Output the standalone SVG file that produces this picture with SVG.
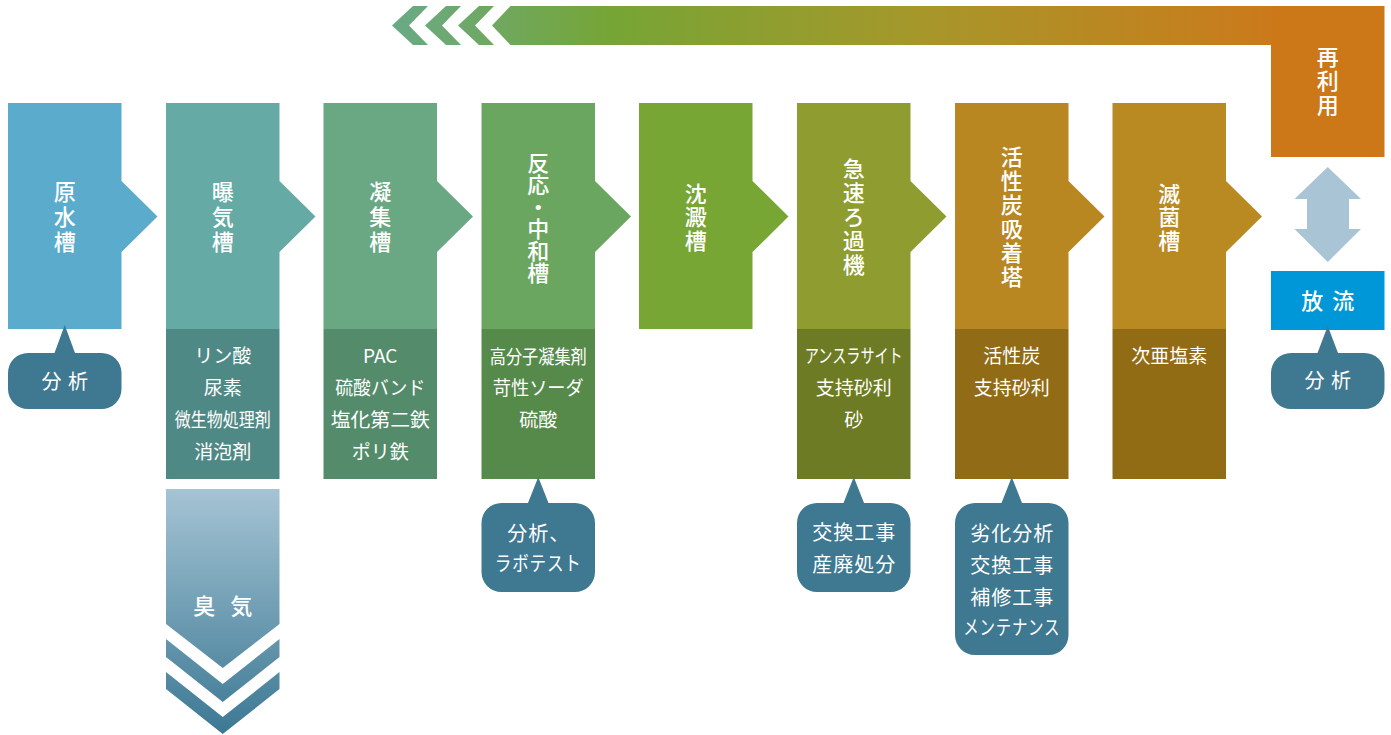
<svg xmlns="http://www.w3.org/2000/svg" width="1391" height="735" viewBox="0 0 1391 735">
<defs>
<linearGradient id="gTop" gradientUnits="userSpaceOnUse" x1="392" y1="0" x2="1271" y2="0">
<stop offset="0" stop-color="#69aa86"/>
<stop offset="0.25" stop-color="#76a535"/>
<stop offset="0.6" stop-color="#a6972a"/>
<stop offset="1" stop-color="#cb7a1b"/>
</linearGradient>
<linearGradient id="gOdor" gradientUnits="userSpaceOnUse" x1="0" y1="489" x2="0" y2="734">
<stop offset="0" stop-color="#a5c4d4"/>
<stop offset="1" stop-color="#3c7893"/>
</linearGradient>
</defs>
<style>
text{font-family:"Noto Sans CJK JP","Noto Sans CJK SC",sans-serif;fill:#fff;text-anchor:middle}
.v{font-size:22px;font-weight:500;writing-mode:vertical-rl;text-orientation:upright}
.h{font-size:22px;font-weight:500}
.s{font-size:19px}
.c{font-size:20px;letter-spacing:1px}
.call{fill:#3e7891}
</style>

<g id="connectors">
<path fill="url(#gTop)" d="M392,25.5 L413,6 H428 L409,25.5 L428,45 H413 Z"/>
<path fill="url(#gTop)" d="M425,25.5 L446,6 H461 L442,25.5 L461,45 H446 Z"/>
<path fill="url(#gTop)" d="M458,25.5 L479,6 H494 L475,25.5 L494,45 H479 Z"/>
<path fill="url(#gTop)" d="M492,25.5 L510.5,6 H1271 V45 H510.5 Z"/>
<polygon fill="#a9c5d5" points="1327.75,167 1361,199 1349,199 1349,229 1361,229 1327.75,262 1294.5,229 1307,229 1307,199 1294.5,199"/>
</g>

<g id="n-gensui">
<path fill="#5aabcc" d="M8,103 H121.5 V181 L157.5,216.5 L121.5,252 V329 H8 Z"/>
<text class="v" x="64.75" y="218.5" style="letter-spacing:3px">原水槽</text>
</g>
<g id="c-gensui">
<path class="call" d="M64.75,325 L75,353 H101.5 A20,20 0 0 1 121.5,373 V389 A20,20 0 0 1 101.5,409 H28 A20,20 0 0 1 8,389 V373 A20,20 0 0 1 28,353 H54.5 Z"/>
<text class="c" x="65.25" y="389" xml:space="preserve">分 析</text>
</g>

<g id="n-bakki">
<path fill="#66aaa6" d="M166,103 H279.5 V181 L315.5,216.5 L279.5,252 V329 H166 Z"/>
<text class="v" x="222.75" y="218.5" style="letter-spacing:3px">曝気槽</text>
<rect x="166" y="329" width="113.5" height="150" fill="#4f8985"/>
<text class="s"><tspan x="222.75" y="363">リン酸</tspan><tspan x="222.75" y="395">尿素</tspan><tspan x="222.75" y="427" textLength="96" lengthAdjust="spacingAndGlyphs">微生物処理剤</tspan><tspan x="222.75" y="459">消泡剤</tspan></text>
</g>
<g id="odor">
<path fill="url(#gOdor)" d="M166,489 H279.5 V624 L222.75,668 L166,624 Z"/>
<path fill="url(#gOdor)" d="M166,639 L222.75,684 L279.5,639 V657 L222.75,702 L166,657 Z"/>
<path fill="url(#gOdor)" d="M166,672 L222.75,717 L279.5,672 V689 L222.75,734 L166,689 Z"/>
<text class="h" x="225.25" y="614" style="letter-spacing:5px" xml:space="preserve">臭 気</text>
</g>

<g id="n-gyoshu">
<path fill="#69a883" d="M323.5,103 H437 V181 L473,216.5 L437,252 V329 H323.5 Z"/>
<text class="v" x="380.25" y="218.5" style="letter-spacing:3px">凝集槽</text>
<rect x="323.5" y="329" width="113.5" height="150" fill="#548b6b"/>
<text class="s"><tspan x="380.25" y="363">PAC</tspan><tspan x="380.25" y="395" textLength="90" lengthAdjust="spacingAndGlyphs">硫酸バンド</tspan><tspan x="380.25" y="427" textLength="99" lengthAdjust="spacingAndGlyphs">塩化第二鉄</tspan><tspan x="380.25" y="459">ポリ鉄</tspan></text>
</g>

<g id="n-hanno">
<path fill="#6ba660" d="M481.5,103 H595 V181 L631,216.5 L595,252 V329 H481.5 Z"/>
<text class="v" x="538.25" y="218" style="letter-spacing:0px">反応・中和槽</text>
<rect x="481.5" y="329" width="113.5" height="150" fill="#568a4b"/>
<text class="s"><tspan x="538.25" y="364" textLength="97" lengthAdjust="spacingAndGlyphs">高分子凝集剤</tspan><tspan x="538.25" y="395" textLength="91" lengthAdjust="spacingAndGlyphs">苛性ソーダ</tspan><tspan x="538.25" y="427">硫酸</tspan></text>
</g>
<g id="c-hanno">
<path class="call" d="M538.25,477 L548.5,503 H575 A20,20 0 0 1 595,523 V572 A20,20 0 0 1 575,592 H501.5 A20,20 0 0 1 481.5,572 V523 A20,20 0 0 1 501.5,503 H528 Z"/>
<text class="c"><tspan x="538.75" y="540.5">分析、</tspan><tspan x="538.25" y="570.5" textLength="87" lengthAdjust="spacingAndGlyphs">ラボテスト</tspan></text>
</g>

<g id="n-chinden">
<path fill="#77a635" d="M639,103 H752.5 V181 L788.5,216.5 L752.5,252 V329 H639 Z"/>
<text class="v" x="695.75" y="217.75" style="letter-spacing:1.5px">沈澱槽</text>
</g>

<g id="n-kyusoku">
<path fill="#8e9c30" d="M797,103 H910.5 V181 L946.5,216.5 L910.5,252 V329 H797 Z"/>
<text class="v" x="853.75" y="218" style="letter-spacing:2px">急速ろ過機</text>
<rect x="797" y="329" width="113.5" height="150" fill="#6c7b24"/>
<text class="s"><tspan x="853.75" y="363" textLength="98" lengthAdjust="spacingAndGlyphs">アンスラサイト</tspan><tspan x="853.75" y="395">支持砂利</tspan><tspan x="853.75" y="427">砂</tspan></text>
</g>
<g id="c-kyusoku">
<path class="call" d="M853.75,477 L864,503 H890.5 A20,20 0 0 1 910.5,523 V572 A20,20 0 0 1 890.5,592 H817 A20,20 0 0 1 797,572 V523 A20,20 0 0 1 817,503 H843.5 Z"/>
<text class="c"><tspan x="854.25" y="539.5">交換工事</tspan><tspan x="854.25" y="571.5">産廃処分</tspan></text>
</g>

<g id="n-kasseitan">
<path fill="#b88721" d="M955,103 H1068.5 V181 L1104.5,216.5 L1068.5,252 V329 H955 Z"/>
<text class="v" x="1011.75" y="218" style="letter-spacing:2px">活性炭吸着塔</text>
<rect x="955" y="329" width="113.5" height="150" fill="#916b15"/>
<text class="s"><tspan x="1011.75" y="363">活性炭</tspan><tspan x="1011.75" y="395">支持砂利</tspan></text>
</g>
<g id="c-kasseitan">
<path class="call" d="M1011.75,477 L1022,503 H1048.5 A20,20 0 0 1 1068.5,523 V635 A20,20 0 0 1 1048.5,655 H975 A20,20 0 0 1 955,635 V523 A20,20 0 0 1 975,503 H1001.5 Z"/>
<text class="c"><tspan x="1012.25" y="540.5">劣化分析</tspan><tspan x="1012.25" y="572.5">交換工事</tspan><tspan x="1012.25" y="604.5">補修工事</tspan><tspan x="1011.75" y="634.5" textLength="97" lengthAdjust="spacingAndGlyphs">メンテナンス</tspan></text>
</g>

<g id="n-mekkin">
<path fill="#b98a22" d="M1112.5,103 H1226 V181 L1262,216.5 L1226,252 V329 H1112.5 Z"/>
<text class="v" x="1169.25" y="217.75" style="letter-spacing:1.5px">滅菌槽</text>
<rect x="1112.5" y="329" width="113.5" height="150" fill="#926c14"/>
<text class="s"><tspan x="1169.25" y="363">次亜塩素</tspan></text>
</g>

<g id="n-sairiyo">
<rect x="1271" y="6" width="113.5" height="151" fill="#cc7818"/>
<text class="v" x="1327.75" y="82" style="letter-spacing:2px">再利用</text>
</g>

<g id="n-horyu">
<rect x="1271" y="271" width="113.5" height="59" fill="#0097d9"/>
<text class="h" x="1328.75" y="308.5" style="letter-spacing:2px" xml:space="preserve">放 流</text>
</g>
<g id="c-horyu">
<path class="call" d="M1327.75,326 L1338,353 H1364.5 A20,20 0 0 1 1384.5,373 V389 A20,20 0 0 1 1364.5,409 H1291 A20,20 0 0 1 1271,389 V373 A20,20 0 0 1 1291,353 H1317.5 Z"/>
<text class="c" x="1328.25" y="388" xml:space="preserve">分 析</text>
</g>
</svg>
